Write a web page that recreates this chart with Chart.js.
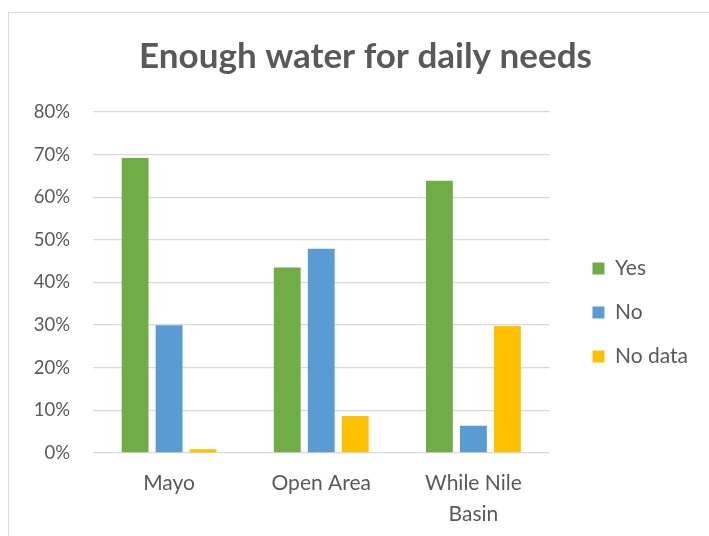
<!DOCTYPE html>
<html>
<head>
<meta charset="utf-8">
<script src="https://cdn.jsdelivr.net/npm/chart.js@4"></script>
<style>
  html, body { margin: 0; padding: 0; background: #fff; overflow: hidden; }
  #frame {
    position: absolute; left: 8px; top: 12px;
    width: 720px; height: 540px;
    border: 1px solid #d9d9d9;
  }
  #wrap { position: absolute; left: 0; top: 0; width: 700px; height: 523px; }
</style>
</head>
<body>
<div id="frame"><div id="wrap"><canvas id="chart"></canvas></div></div>
<script>
"use strict";

// Chart data
const categories = ["Mayo", "Open Area", ["While Nile", "Basin"]];
const seriesNames = ["Yes", "No", "No data"];
const yesValues = [69.2, 43.5, 63.9];
const noValues = [30.0, 47.9, 6.4];
const noDataValues = [0.9, 8.7, 29.8];
const yTicks = [0, 10, 20, 30, 40, 50, 60, 70, 80];

const textColor = "#595959";
const gridColor = "#d9d9d9";
const fontFamily = "Lato, 'Open Sans', sans-serif";

new Chart(document.getElementById("chart"), {
  type: "bar",
  data: {
    labels: categories,
    datasets: [
      { label: seriesNames[0], data: yesValues, backgroundColor: "#70ad47" },
      { label: seriesNames[1], data: noValues, backgroundColor: "#5b9bd5" },
      { label: seriesNames[2], data: noDataValues, backgroundColor: "#ffc000" }
    ]
  },
  options: {
    responsive: true, maintainAspectRatio: false, animation: false,
    categoryPercentage: 0.67, barPercentage: 0.79,
    layout: { padding: { left: 24, right: 11, top: 0, bottom: 6 } },
    plugins: {
      title: {
        display: true, text: "Enough water for daily needs",
        color: textColor, font: { family: fontFamily, size: 35, weight: "bold" },
        padding: { top: 23, bottom: 34 }
      },
      legend: {
        position: "right", maxWidth: 200,
        // blank legend title only pushes the entries down
        title: { display: true, text: " ", font: { size: 10 }, padding: { top: 35, bottom: 35 } },
        labels: {
          color: textColor, font: { family: fontFamily, size: 21 },
          boxWidth: 12, boxHeight: 12, padding: 23
        }
      },
      tooltip: { enabled: false }
    },
    scales: {
      y: {
        min: 0, max: 80,
        afterBuildTicks: axis => { axis.ticks = yTicks.map(v => ({ value: v })); },
        afterFit: axis => { axis.width = 60; },
        ticks: { color: textColor, font: { family: fontFamily, size: 18.5 }, padding: 23, callback: v => v + "%" },
        grid: { color: gridColor, lineWidth: 1.3, drawTicks: false },
        border: { display: false }
      },
      // empty spacer between the plot and the legend
      gap: {
        position: "right", display: true,
        ticks: { display: false }, grid: { display: false, drawTicks: false }, border: { display: false },
        afterFit: axis => { axis.width = 20; }
      },
      x: {
        afterFit: axis => { axis.height = 77; },
        ticks: { color: textColor, font: { family: fontFamily, size: 21, lineHeight: 1.48 }, padding: 15 },
        grid: { display: false, drawTicks: false },
        border: { display: false }
      }
    }
  }
});
</script>
</body>
</html>
